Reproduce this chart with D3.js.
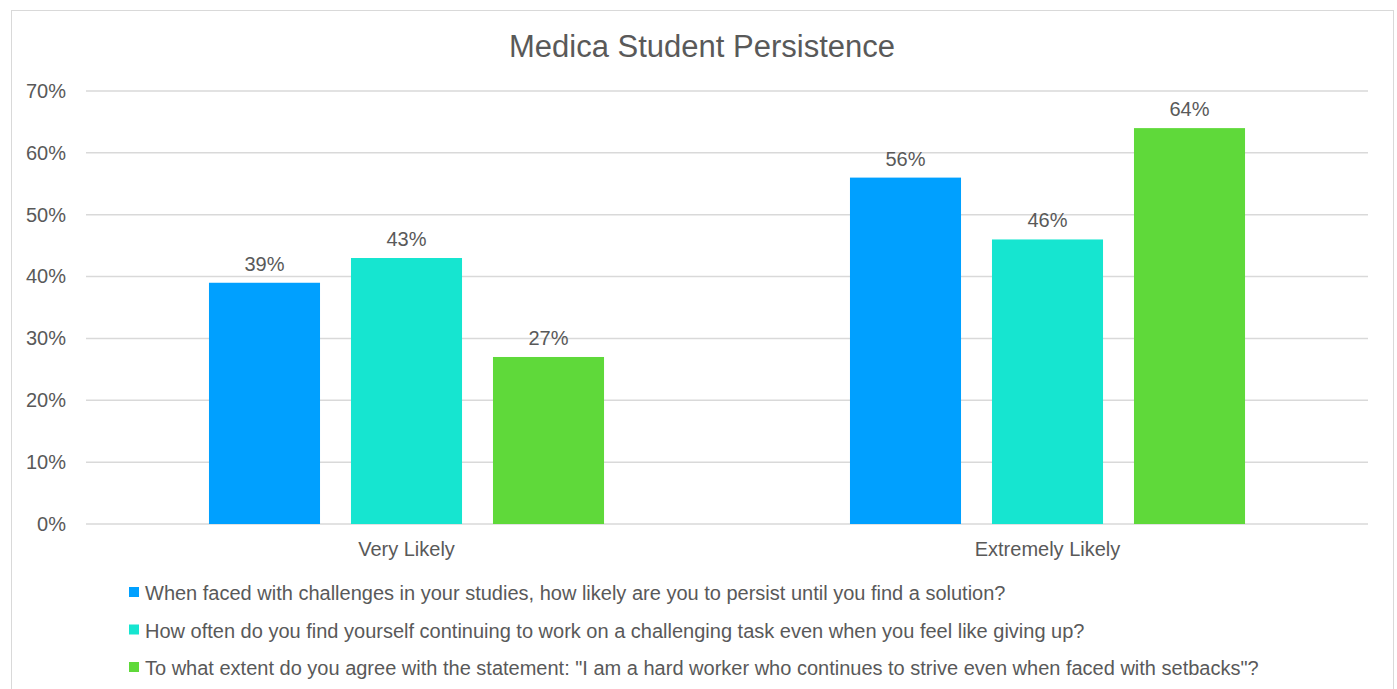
<html>
<head>
<script src="https://cdn.jsdelivr.net/npm/d3@7"></script>
<style>
  body { margin: 0; background: #fff; font-family: "Liberation Sans", Arial, sans-serif; }
  text { fill: #595959; }
</style>
</head>
<body>
<script>
var categories = ["Very Likely", "Extremely Likely"];
var series = [
  "When faced with challenges in your studies, how likely are you to persist until you find a solution?",
  "How often do you find yourself continuing to work on a challenging task even when you feel like giving up?",
  "To what extent do you agree with the statement: \"I am a hard worker who continues to strive even when faced with setbacks\"?"
];
var colors = ["#00a0ff", "#16e5d0", "#5fd93a"];
var values = [
  [0.39, 0.43, 0.27],   // Very Likely
  [0.56, 0.46, 0.64]    // Extremely Likely
];
var yTicks = [0, 0.1, 0.2, 0.3, 0.4, 0.5, 0.6, 0.7];

var width = 1397, height = 689;
var svg = d3.select("body").append("svg")
    .attr("width", width).attr("height", height);

// chart frame
svg.append("rect")
    .attr("x", 11.5).attr("y", 10.5)
    .attr("width", 1382).attr("height", 700)
    .attr("fill", "#fff").attr("stroke", "#d9d9d9");

svg.append("text")
    .attr("x", 702).attr("y", 57)
    .attr("text-anchor", "middle")
    .style("font-size", "31px")
    .text("Medica Student Persistence");

var x0 = d3.scaleBand().domain(categories).range([86, 1368]);
var x1 = d3.scaleBand().domain(d3.range(series.length))
    .range([0, x0.bandwidth()]).paddingInner(0.218).paddingOuter(0.866);
var y = d3.scaleLinear().domain([0, 0.7]).range([524, 91]);

var grid = svg.append("g");
grid.selectAll("line").data(yTicks).enter().append("line")
    .attr("x1", 86).attr("x2", 1368)
    .attr("y1", function(d) { return y(d); })
    .attr("y2", function(d) { return y(d); })
    .attr("stroke", "#d9d9d9").attr("stroke-width", 1.5);

var yAxis = d3.axisLeft(y).tickValues(yTicks).tickFormat(d3.format(".0%")).tickSize(0).tickPadding(20);
svg.append("g").attr("transform", "translate(86,0)").call(yAxis)
    .call(function(g) { g.select(".domain").remove(); })
    .selectAll("text")
    .attr("fill", "#595959")
    .style("font-size", "20px").style("font-family", "'Liberation Sans', Arial, sans-serif");

var groups = svg.selectAll(".grp").data(values).enter().append("g")
    .attr("transform", function(d, i) { return "translate(" + x0(categories[i]) + ",0)"; });

groups.selectAll("rect").data(function(d) { return d; }).enter().append("rect")
    .attr("x", function(d, i) { return x1(i); })
    .attr("y", function(d) { return y(d); })
    .attr("width", x1.bandwidth())
    .attr("height", function(d) { return y(0) - y(d); })
    .attr("fill", function(d, i) { return colors[i]; });

groups.selectAll(".lbl").data(function(d) { return d; }).enter().append("text")
    .attr("x", function(d, i) { return x1(i) + x1.bandwidth() / 2; })
    .attr("y", function(d) { return y(d) - 12; })
    .attr("text-anchor", "middle")
    .style("font-size", "20px")
    .text(function(d) { return d3.format(".0%")(d); });

var xAxis = d3.axisBottom(x0).tickSize(0).tickPadding(18);
svg.append("g").attr("transform", "translate(0,524)").call(xAxis)
    .call(function(g) { g.select(".domain").remove(); })
    .selectAll("text")
    .attr("fill", "#595959")
    .style("font-size", "20px").style("font-family", "'Liberation Sans', Arial, sans-serif");

var legend = svg.selectAll(".leg").data(series).enter().append("g")
    .attr("transform", function(d, i) { return "translate(129," + (593 + i * 37.5) + ")"; });
legend.append("rect")
    .attr("x", 0).attr("y", -6).attr("width", 10).attr("height", 10)
    .attr("fill", function(d, i) { return colors[i]; });
legend.append("text")
    .attr("x", 16).attr("y", 7)
    .style("font-size", "20px")
    .text(function(d) { return d; });
</script>
</body>
</html>
